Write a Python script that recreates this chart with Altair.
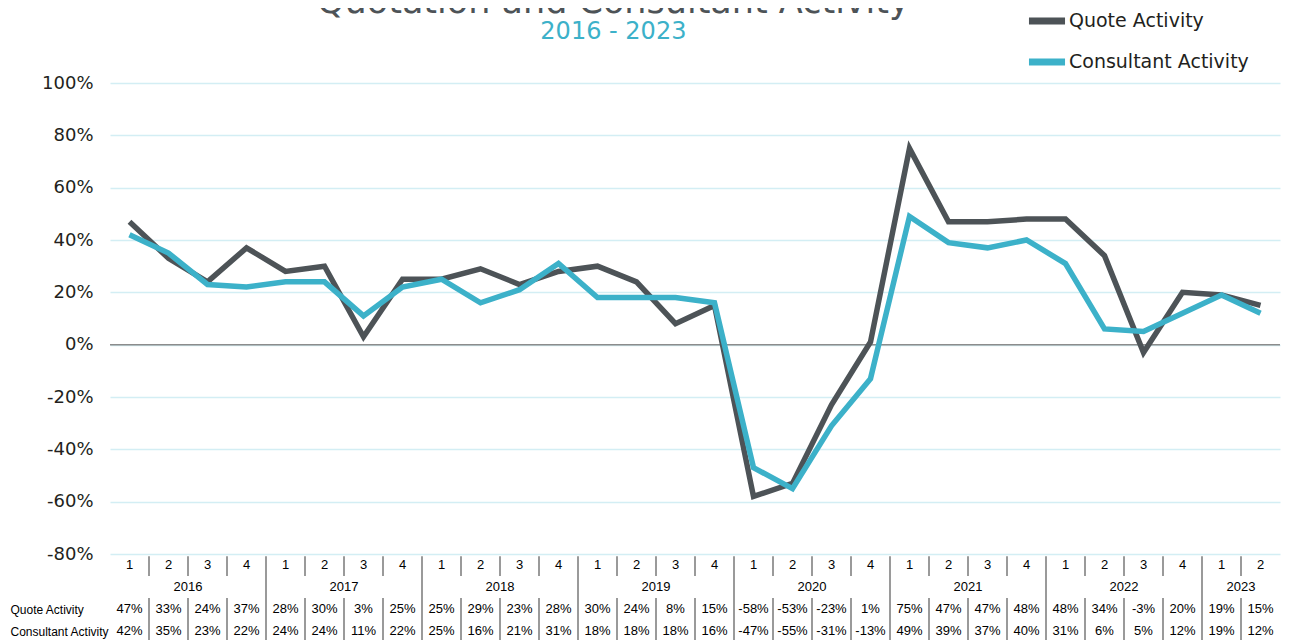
import altair as alt
import pandas as pd

# ---------------- data ----------------
years = ["2016", "2017", "2018", "2019", "2020", "2021", "2022", "2023"]
quarters_per_year = [4, 4, 4, 4, 4, 4, 4, 2]
quote_activity = [47, 33, 24, 37, 28, 30, 3, 25, 25, 29, 23, 28, 30, 24, 8, 15,
                  -58, -53, -23, 1, 75, 47, 47, 48, 48, 34, -3, 20, 19, 15]
consultant_activity = [42, 35, 23, 22, 24, 24, 11, 22, 25, 16, 21, 31, 18, 18, 18, 16,
                       -47, -55, -31, -13, 49, 39, 37, 40, 31, 6, 5, 12, 19, 12]
series_names = ["Quote Activity", "Consultant Activity"]
series_colors = ["#4d5357", "#3cb1c9"]
y_ticks = [-80, -60, -40, -20, 0, 20, 40, 60, 80, 100]
title_text = "Quotation and Consultant Activity"
subtitle_text = "2016 - 2023"

# ---------------- build tables ----------------
q_labels, q_years = [], []
for yr, n in zip(years, quarters_per_year):
    for q in range(1, n + 1):
        q_labels.append(str(q))
        q_years.append(yr)
N = len(q_labels)
pos = [i + 0.5 for i in range(N)]

line_df = pd.DataFrame({
    "pos": pos * 2,
    "value": quote_activity + consultant_activity,
    "series": [series_names[0]] * N + [series_names[1]] * N,
})

xscale = alt.Scale(domain=[0, N], nice=False, zero=False)
W, H, TH = 1170, 471, 88
BG_GRID = "#d3eef4"
SEP = "#9a9a9a"
MAIN_FONT = "DejaVu Sans"
TAB_FONT = "Liberation Sans Narrow, Arial Narrow, Liberation Sans"

lines = alt.Chart(line_df).mark_line(strokeWidth=5.5, strokeJoin="miter").encode(
    x=alt.X("pos:Q", scale=xscale, axis=None),
    y=alt.Y("value:Q",
            scale=alt.Scale(domain=[y_ticks[0], y_ticks[-1]], nice=False),
            axis=alt.Axis(values=y_ticks, labelExpr="datum.value + '%'", title=None,
                          grid=True, gridColor=BG_GRID, gridWidth=1.5,
                          ticks=False, domain=False, labelPadding=17,
                          minExtent=100, maxExtent=100,
                          labelFont=MAIN_FONT, labelFontSize=18, labelColor="#231f20")),
    color=alt.Color("series:N",
                    scale=alt.Scale(domain=series_names, range=series_colors),
                    legend=alt.Legend(title=None, orient="none", legendX=915, legendY=-84,
                                      symbolType="stroke", symbolStrokeWidth=7,
                                      symbolSize=1300, labelFont=MAIN_FONT,
                                      labelFontSize=19, labelColor="#231f20",
                                      labelLimit=0, labelOffset=0, rowPadding=5)),
    order=alt.Order("pos:Q"),
)

zero_df = pd.DataFrame({"v": [0]})
zero_line = alt.Chart(zero_df).mark_rule(color="#8c8c8c", strokeWidth=1.5).encode(
    y=alt.Y("v:Q"))

top = alt.layer(zero_line, lines).properties(width=W, height=H)

# ---------------- data table ----------------
q_df = pd.DataFrame({"pos": pos, "label": q_labels, "row": 0.5})
yr_pos = []
start = 0
for n in quarters_per_year:
    yr_pos.append(sum(pos[start:start + n]) / n)
    start += n
yr_df = pd.DataFrame({"pos": yr_pos, "label": years, "row": 1.5})
val_df = pd.DataFrame({
    "pos": pos * 2,
    "label": [f"{v}%" for v in quote_activity + consultant_activity],
    "row": [2.5] * N + [3.5] * N,
})

year_bounds = []
acc = 0
for n in quarters_per_year[:-1]:
    acc += n
    year_bounds.append(acc)
sep_rows = []
for b in range(1, N):
    if b in year_bounds:
        sep_rows.append({"pos": b, "row": 0.1, "row2": 4.0})
    else:
        sep_rows.append({"pos": b, "row": 0.1, "row2": 1.0})
        sep_rows.append({"pos": b, "row": 2.0, "row2": 4.0})
sep_df = pd.DataFrame(sep_rows)

label_expr = f"datum.value < 3 ? '{series_names[0]}' : '{series_names[1]}'"

X_T = alt.X("pos:Q", scale=xscale, axis=None)
Y_T = alt.Y("row:Q",
            scale=alt.Scale(domain=[0, 4], reverse=True, nice=False, zero=False),
            axis=alt.Axis(values=[2.5, 3.5], labelExpr=label_expr, title=None,
                          grid=False, ticks=False, domain=False,
                          minExtent=100, maxExtent=100,
                          labelAlign="left", labelPadding=100, labelBaseline="middle",
                          labelFont=TAB_FONT, labelFontSize=12, labelColor="#000000"))

txt_common = dict(font=TAB_FONT, fontSize=13, color="#000000", baseline="middle")

val_text = alt.Chart(val_df).mark_text(**txt_common).encode(x=X_T, y=Y_T, text="label:N")
q_text = alt.Chart(q_df).mark_text(**txt_common).encode(x=X_T, y=Y_T, text="label:N")
yr_text = alt.Chart(yr_df).mark_text(**txt_common).encode(x=X_T, y=Y_T, text="label:N")
seps = alt.Chart(sep_df).mark_rule(color=SEP, strokeWidth=2).encode(
    x=X_T, y=Y_T, y2="row2:Q")

table = alt.layer(val_text, seps, q_text, yr_text).properties(width=W, height=TH)

chart = alt.vconcat(top, table, spacing=0, bounds="flush").properties(
    title=alt.TitleParams(text=title_text, subtitle=subtitle_text,
                          font=MAIN_FONT, fontSize=35, fontWeight="normal",
                          color="#4d5357", subtitleFont=MAIN_FONT,
                          subtitleFontSize=24, subtitleColor="#3cb1c9",
                          subtitlePadding=0, anchor="middle", offset=-45, dx=-32),
    padding={"left": 2, "top": -23, "right": 0, "bottom": 0},
).configure_view(stroke=None)

chart.save("out.html", embed_options={"renderer": "svg", "actions": False})
